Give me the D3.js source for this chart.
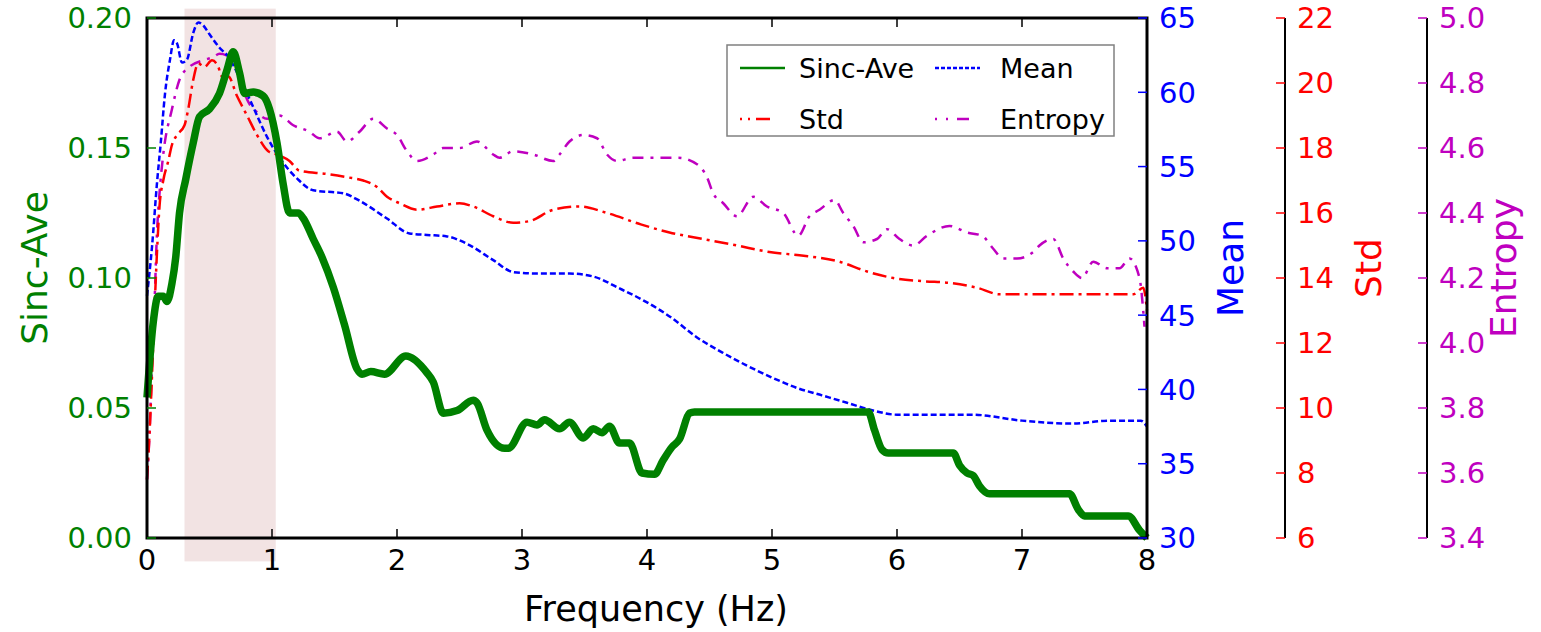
<!DOCTYPE html>
<html>
<head>
<meta charset="utf-8">
<script src="https://cdn.jsdelivr.net/npm/d3@7"></script>
<style>
  html, body { margin: 0; padding: 0; background: #ffffff; }
  svg { display: block; font-family: "DejaVu Sans", sans-serif; }
</style>
</head>
<body>
<svg id="chart" width="1541" height="632"></svg>
<script>
// ---- data -----------------------------------------------------------
const freqTicks = [0, 1, 2, 3, 4, 5, 6, 7, 8];
const sincTicks = [0.00, 0.05, 0.10, 0.15, 0.20];
const meanTicks = [30, 35, 40, 45, 50, 55, 60, 65];
const stdTicks = [6, 8, 10, 12, 14, 16, 18, 20, 22];
const entTicks = [3.4, 3.6, 3.8, 4.0, 4.2, 4.4, 4.6, 4.8, 5.0];

// highlighted frequency band (Hz)
const bandRange = [0.3, 1.03];

const freqSinc = [0, 0.05, 0.09, 0.13, 0.16, 0.20, 0.23, 0.26, 0.31, 0.37, 0.42, 0.50, 0.58, 0.64, 0.69,
  0.74, 0.78, 0.85, 0.93, 0.98, 1.04, 1.09, 1.14, 1.21, 1.25, 1.33, 1.40, 1.49, 1.58, 1.68, 1.72, 1.79,
  1.90, 2.07, 2.24, 2.29, 2.37, 2.48, 2.61, 2.64, 2.72, 2.86, 2.89, 3.04, 3.12, 3.18, 3.30, 3.38, 3.49,
  3.57, 3.64, 3.70, 3.78, 3.86, 3.96, 4.06, 4.13, 4.20, 4.26, 4.34, 4.38, 5.77, 5.82, 5.88, 5.93, 6.45,
  6.50, 6.56, 6.61, 6.66, 6.74, 7.38, 7.45, 7.50, 7.85, 7.94, 8.0];
const sincAve = [0.054, 0.083, 0.093, 0.093, 0.091, 0.098, 0.108, 0.125, 0.138, 0.152, 0.162, 0.165,
  0.171, 0.180, 0.187, 0.179, 0.171, 0.1715, 0.170, 0.165, 0.152, 0.136, 0.125, 0.125, 0.123, 0.115,
  0.108, 0.0965, 0.082, 0.065, 0.063, 0.064, 0.063, 0.070, 0.0635, 0.060, 0.048, 0.049, 0.053, 0.052,
  0.0415, 0.0345, 0.0345, 0.0445, 0.0435, 0.0455, 0.042, 0.0445, 0.0385, 0.042, 0.0405, 0.043, 0.0365,
  0.0365, 0.025, 0.0245, 0.030, 0.035, 0.038, 0.048, 0.0485, 0.0485, 0.0415, 0.034, 0.0327, 0.0327,
  0.028, 0.025, 0.024, 0.020, 0.017, 0.017, 0.011, 0.0085, 0.0085, 0.003, 0.0];

const freqMean = [0, 0.04, 0.08, 0.11, 0.144, 0.184, 0.216, 0.24, 0.28, 0.32, 0.37, 0.41, 0.45, 0.50,
  0.58, 0.65, 0.74, 0.85, 0.96, 1.06, 1.20, 1.33, 1.57, 1.70, 1.92, 2.10, 2.24, 2.40, 2.56, 2.77, 2.93,
  3.12, 3.38, 3.57, 3.78, 3.97, 4.2, 4.4, 4.6, 4.8, 5.0, 5.2, 5.4, 5.6, 5.8, 6.0, 6.3, 6.6, 7.0, 7.4,
  7.7, 7.95, 8.0];
const meanVal = [46.3, 49.6, 53.9, 56.6, 59.9, 62.2, 63.5, 63.3, 62.0, 62.2, 64.0, 64.7, 64.5, 63.9,
  63.0, 62.4, 61.0, 59.0, 57.0, 55.6, 54.2, 53.4, 53.2, 52.7, 51.5, 50.5, 50.4, 50.3, 49.8, 48.7, 47.9,
  47.8, 47.8, 47.6, 46.8, 46.0, 44.8, 43.5, 42.5, 41.6, 40.8, 40.1, 39.6, 39.1, 38.6, 38.3, 38.3, 38.3,
  37.9, 37.7, 37.9, 37.9, 37.5];

const freqStd = [0, 0.02, 0.04, 0.06, 0.08, 0.10, 0.13, 0.17, 0.20, 0.24, 0.30, 0.33, 0.37, 0.41, 0.46,
  0.52, 0.57, 0.60, 0.65, 0.72, 0.80, 0.88, 0.97, 1.04, 1.14, 1.22, 1.44, 1.60, 1.73, 1.84, 1.92, 2.02,
  2.16, 2.32, 2.50, 2.61, 2.77, 2.93, 3.06, 3.25, 3.46, 3.68, 3.95, 4.18, 4.45, 4.72, 4.98, 5.22, 5.54,
  5.76, 5.97, 6.21, 6.42, 6.64, 6.82, 7.09, 7.36, 7.62, 7.89, 7.97, 8.0];
const stdVal = [7.8, 9.2, 11.0, 13.0, 14.8, 16.2, 17.0, 17.6, 18.1, 18.4, 18.7, 19.2, 20.1, 20.6, 20.5,
  20.7, 20.5, 20.2, 20.2, 19.6, 19.0, 18.4, 17.9, 17.8, 17.6, 17.3, 17.2, 17.1, 17.0, 16.8, 16.5, 16.3,
  16.1, 16.2, 16.3, 16.2, 15.9, 15.7, 15.75, 16.1, 16.2, 16.0, 15.65, 15.4, 15.2, 15.0, 14.8, 14.7, 14.5,
  14.2, 14.0, 13.9, 13.85, 13.7, 13.5, 13.5, 13.5, 13.5, 13.5, 13.7, 13.0];

const freqEnt = [0, 0.02, 0.04, 0.06, 0.08, 0.10, 0.13, 0.20, 0.26, 0.34, 0.45, 0.53, 0.58, 0.66, 0.74,
  0.80, 0.88, 0.96, 1.06, 1.17, 1.30, 1.38, 1.52, 1.60, 1.70, 1.81, 1.92, 2.00, 2.08, 2.16, 2.29, 2.37,
  2.50, 2.64, 2.77, 2.82, 2.93, 3.09, 3.25, 3.30, 3.38, 3.49, 3.60, 3.68, 3.76, 3.89, 4.02, 4.10, 4.25,
  4.40, 4.48, 4.53, 4.61, 4.72, 4.85, 4.96, 5.09, 5.21, 5.30, 5.38, 5.50, 5.57, 5.65, 5.73, 5.84, 5.92,
  6.02, 6.13, 6.24, 6.42, 6.56, 6.68, 6.77, 6.85, 6.96, 7.09, 7.14, 7.25, 7.33, 7.41, 7.48, 7.57, 7.68,
  7.78, 7.86, 7.94, 7.98];
const entVal = [3.58, 3.72, 3.93, 4.12, 4.34, 4.46, 4.58, 4.72, 4.81, 4.85, 4.87, 4.88, 4.89, 4.88, 4.82,
  4.75, 4.71, 4.69, 4.70, 4.67, 4.65, 4.63, 4.65, 4.62, 4.65, 4.69, 4.66, 4.64, 4.59, 4.56, 4.58, 4.60,
  4.60, 4.62, 4.58, 4.57, 4.59, 4.58, 4.56, 4.58, 4.62, 4.64, 4.63, 4.58, 4.56, 4.57, 4.57, 4.57, 4.57,
  4.55, 4.51, 4.46, 4.43, 4.39, 4.45, 4.42, 4.40, 4.33, 4.39, 4.41, 4.44, 4.40, 4.36, 4.31, 4.32, 4.35,
  4.32, 4.30, 4.33, 4.36, 4.34, 4.33, 4.29, 4.26, 4.26, 4.28, 4.30, 4.32, 4.26, 4.22, 4.20, 4.25, 4.23,
  4.23, 4.26, 4.20, 4.05];

// ---- layout ---------------------------------------------------------
const C = { green: "#008000", blue: "#0000ff", red: "#ff0000", mag: "#bf00bf" };
const plot = { left: 147, right: 1147, top: 18, bottom: 538 };
const stdAxisX = 1285, entAxisX = 1427;
const tickFont = 29, labelFont = 35, vLabelFont = 36, legendFont = 27, tickLen = 9;

const svg = d3.select("#chart");

const x = d3.scaleLinear().domain([0, 8]).range([plot.left, plot.right]);
const ySinc = d3.scaleLinear().domain([0, 0.2]).range([plot.bottom, plot.top]);
const yMean = d3.scaleLinear().domain([30, 65]).range([plot.bottom, plot.top]);
const yStd = d3.scaleLinear().domain([6, 22]).range([plot.bottom, plot.top]);
const yEnt = d3.scaleLinear().domain([3.4, 5.0]).range([plot.bottom, plot.top]);
const yFrac = d3.scaleLinear().domain([0, 1]).range([plot.bottom, plot.top]);

// ---- shaded band (spills slightly past the axes) ---------------------
svg.append("rect")
  .attr("x", x(bandRange[0]))
  .attr("width", x(bandRange[1]) - x(bandRange[0]))
  .attr("y", yFrac(1.018))
  .attr("height", yFrac(-0.045) - yFrac(1.018))
  .attr("fill", "#f2e3e3");

// ---- series ---------------------------------------------------------
function drawSeries(xs, ys, yScale, color, width, dash) {
  const pts = xs.map((f, i) => [f, ys[i]]);
  const line = d3.line()
    .x(d => x(d[0]))
    .y(d => yScale(d[1]))
    .curve(d3.curveMonotoneX);
  const p = svg.append("path")
    .datum(pts)
    .attr("d", line)
    .attr("fill", "none")
    .attr("stroke", color)
    .attr("stroke-width", width)
    .attr("stroke-linejoin", "round")
    .attr("stroke-linecap", "butt");
  if (dash) p.attr("stroke-dasharray", dash);
}

drawSeries(freqEnt, entVal, yEnt, C.mag, 2.5, "11,7,3,7");
drawSeries(freqStd, stdVal, yStd, C.red, 2.5, "14,5,3,5");
drawSeries(freqMean, meanVal, yMean, C.blue, 2.5, "6,3");
drawSeries(freqSinc, sincAve, ySinc, C.green, 7.5, null);

// ---- main frame -----------------------------------------------------
svg.append("rect")
  .attr("x", plot.left).attr("y", plot.top)
  .attr("width", plot.right - plot.left).attr("height", plot.bottom - plot.top)
  .attr("fill", "none").attr("stroke", "#000").attr("stroke-width", 3);

// bottom / top ticks (inward)
const gx = svg.append("g");
freqTicks.forEach(t => {
  gx.append("line").attr("x1", x(t)).attr("x2", x(t))
    .attr("y1", plot.bottom).attr("y2", plot.bottom - tickLen)
    .attr("stroke", "#000").attr("stroke-width", 1.5);
  gx.append("line").attr("x1", x(t)).attr("x2", x(t))
    .attr("y1", plot.top).attr("y2", plot.top + tickLen)
    .attr("stroke", "#000").attr("stroke-width", 1.5);
  gx.append("text").attr("x", x(t)).attr("y", plot.bottom + 32)
    .attr("text-anchor", "middle").attr("font-size", tickFont).attr("fill", "#000")
    .text(d3.format("d")(t));
});

// left axis: Sinc-Ave
const gl = svg.append("g");
sincTicks.forEach(t => {
  gl.append("line").attr("x1", plot.left).attr("x2", plot.left + tickLen)
    .attr("y1", ySinc(t)).attr("y2", ySinc(t))
    .attr("stroke", C.green).attr("stroke-width", 1.5);
  gl.append("text").attr("x", plot.left - 15).attr("y", ySinc(t)).attr("dy", "0.36em")
    .attr("text-anchor", "end").attr("font-size", tickFont).attr("fill", C.green)
    .text(d3.format(".2f")(t));
});

// right axis: Mean (on the frame's right edge)
const gm = svg.append("g");
meanTicks.forEach(t => {
  gm.append("line").attr("x1", plot.right).attr("x2", plot.right - tickLen)
    .attr("y1", yMean(t)).attr("y2", yMean(t))
    .attr("stroke", C.blue).attr("stroke-width", 1.5);
  gm.append("text").attr("x", plot.right + 12).attr("y", yMean(t)).attr("dy", "0.36em")
    .attr("text-anchor", "start").attr("font-size", tickFont).attr("fill", C.blue)
    .text(d3.format("d")(t));
});

// offset axes: Std and Entropy
function offsetAxis(ax, ticks, scale, color, fmt) {
  const g = svg.append("g");
  g.append("line").attr("x1", ax).attr("x2", ax)
    .attr("y1", plot.top).attr("y2", plot.bottom)
    .attr("stroke", "#000").attr("stroke-width", 2);
  ticks.forEach(t => {
    g.append("line").attr("x1", ax).attr("x2", ax - tickLen)
      .attr("y1", scale(t)).attr("y2", scale(t))
      .attr("stroke", color).attr("stroke-width", 1.5);
    g.append("text").attr("x", ax + 12).attr("y", scale(t)).attr("dy", "0.36em")
      .attr("text-anchor", "start").attr("font-size", tickFont).attr("fill", color)
      .text(fmt(t));
  });
}
offsetAxis(stdAxisX, stdTicks, yStd, C.red, d3.format("d"));
offsetAxis(entAxisX, entTicks, yEnt, C.mag, d3.format(".1f"));

// ---- axis titles ----------------------------------------------------
const titleY = 268;
svg.append("text").attr("x", 656).attr("y", 621)
  .attr("text-anchor", "middle").attr("font-size", labelFont).attr("fill", "#000")
  .text("Frequency (Hz)");
function vLabel(px, text, color) {
  svg.append("text")
    .attr("transform", `translate(${px},${titleY}) rotate(-90)`)
    .attr("text-anchor", "middle").attr("font-size", vLabelFont).attr("fill", color)
    .text(text);
}
vLabel(47, "Sinc-Ave", C.green);
vLabel(1243, "Mean", C.blue);
vLabel(1381, "Std", C.red);
vLabel(1516, "Entropy", C.mag);

// ---- legend ---------------------------------------------------------
const legend = svg.append("g");
legend.append("rect").attr("x", 727).attr("y", 45).attr("width", 387).attr("height", 91)
  .attr("fill", "#fff").attr("stroke", "#808080").attr("stroke-width", 1.5);
const legendItems = [
  { name: "Sinc-Ave", color: C.green, dash: null, col: 0, row: 0 },
  { name: "Mean", color: C.blue, dash: "4,2", col: 1, row: 0 },
  { name: "Std", color: C.red, dash: "2,6,2,6,14,50", col: 0, row: 1 },
  { name: "Entropy", color: C.mag, dash: "2,9,2,9,12,50", col: 1, row: 1 }
];
legendItems.forEach(it => {
  const lx = it.col === 0 ? 740 : 935;
  const tx = it.col === 0 ? 799 : 1000;
  const ly = it.row === 0 ? 68 : 119;
  const l = legend.append("line").attr("x1", lx).attr("x2", lx + 45)
    .attr("y1", ly).attr("y2", ly)
    .attr("stroke", it.color).attr("stroke-width", 2.5);
  if (it.dash) l.attr("stroke-dasharray", it.dash);
  legend.append("text").attr("x", tx).attr("y", ly).attr("dy", "0.36em")
    .attr("font-size", legendFont).attr("fill", "#000").text(it.name);
});
</script>
</body>
</html>
